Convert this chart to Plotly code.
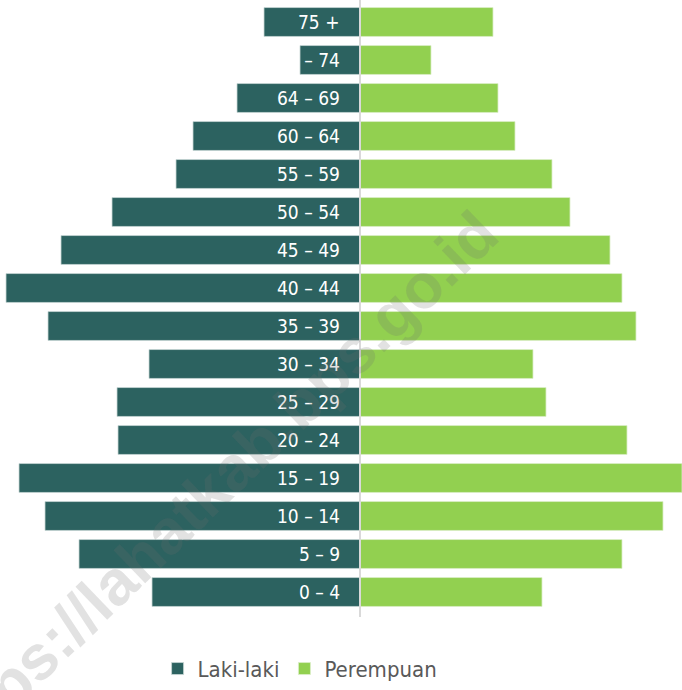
import plotly.graph_objects as go

age_groups = ["0 – 4", "5 – 9", "10 – 14", "15 – 19", "20 – 24", "25 – 29", "30 – 34",
              "35 – 39", "40 – 44", "45 – 49", "50 – 54", "55 – 59", "60 – 64",
              "64 – 69", "70 – 74", "75 +"]
laki_laki = [208, 281, 315, 341, 242, 243, 211, 312, 354, 299, 248, 184, 167, 123, 60, 96]
perempuan = [182, 262, 303, 322, 267, 186, 173, 276, 262, 250, 210, 192, 155, 138, 71, 133]

TEAL = "#2c6260"
GREEN = "#92d050"
FONT = "DejaVu Sans Condensed, Liberation Sans Narrow, sans-serif"

fig = go.Figure()
fig.add_trace(go.Bar(
    y=age_groups, x=[-v for v in laki_laki], orientation="h", name="Laki-laki",
    marker=dict(color=TEAL, line=dict(color="#c9d8d6", width=0.8)),
    hoverinfo="skip",
))
fig.add_trace(go.Bar(
    y=age_groups, x=perempuan, orientation="h", name="Perempuan",
    marker=dict(color=GREEN, line=dict(color="#dcefc8", width=0.8)),
    hoverinfo="skip",
))

annotations = []
for g in age_groups:
    annotations.append(dict(
        x=-18, y=g, xref="x", yref="y", text=g, showarrow=False,
        xanchor="right", yanchor="middle",
        font=dict(family=FONT, size=19, color="#ffffff"),
    ))

# watermark
annotations.append(dict(
    x=212 / 682, y=(612 - 489) / 609, xref="paper", yref="paper",
    text="<b>https://lahatkab.bps.go.id</b>", showarrow=False, textangle=-44,
    font=dict(family="Liberation Sans, Arial, sans-serif", size=63,
              color="rgba(110,110,110,0.2)"),
    xanchor="center", yanchor="middle",
))

fig.update_layout(
    width=682, height=690,
    margin=dict(l=0, r=0, t=3, b=76),
    paper_bgcolor="white", plot_bgcolor="white",
    barmode="relative", bargap=0.24,
    xaxis=dict(range=[-360, 322], visible=False, fixedrange=True),
    yaxis=dict(categoryorder="array", categoryarray=age_groups, visible=False, fixedrange=True),
    showlegend=True,
    legend=dict(
        orientation="h", x=0.44, y=-0.095, xanchor="center", yanchor="middle",
        font=dict(family=FONT, size=22, color="#595959"),
        itemwidth=30, traceorder="normal",
    ),
    annotations=annotations,
    shapes=[dict(type="line", xref="x", yref="paper", x0=0, x1=0, y0=-0.01, y1=1.01,
                 line=dict(color="#d9d9d9", width=2), layer="above")],
)

fig.write_html("out.html", config={"displayModeBar": False},
               post_script="document.body.style.margin='0';")
